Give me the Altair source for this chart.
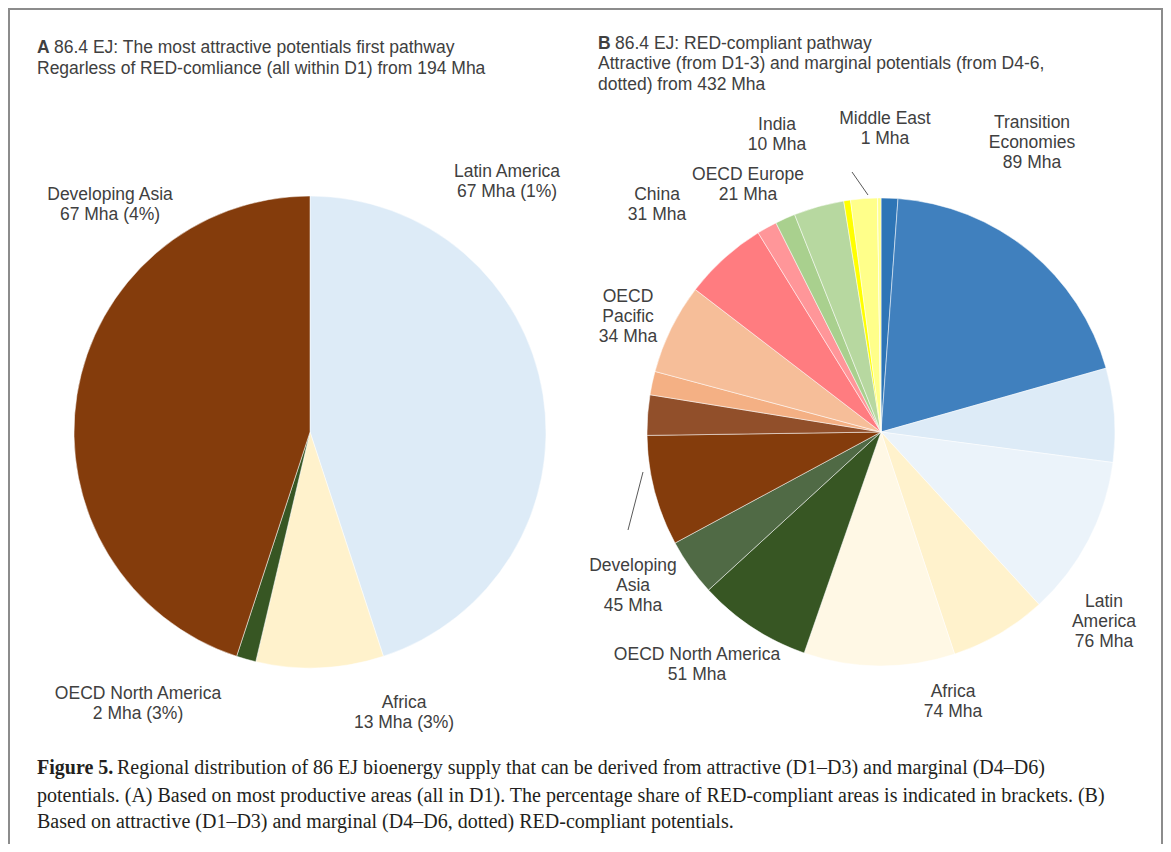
import altair as alt
import pandas as pd

# ---------------- data ----------------
# Panel A: most attractive potentials first (all within D1), Mha, clockwise from 12 o'clock
a_regions = ["Latin America", "Africa", "OECD North America", "Developing Asia"]
a_mha = [67, 13, 2, 67]
a_red_share = ["1%", "3%", "3%", "4%"]

# Panel B: RED-compliant pathway, Mha, clockwise from 12 o'clock
b_regions = ["Transition Economies", "Latin America", "Africa", "OECD North America",
             "Developing Asia", "OECD Pacific", "China", "OECD Europe", "India", "Middle East"]
b_attractive = [5, 28, 29, 34, 33, 7, 25, 6, 2, 0]      # D1-3 (solid)
b_marginal = [84, 48, 45, 17, 12, 27, 6, 15, 8, 1]      # D4-6 (dotted)
b_total = [89, 76, 74, 51, 45, 34, 31, 21, 10, 1]

# ---------------- styles ----------------
solid_col = {
    "Transition Economies": "#2E75B6", "Latin America": "#DDEBF7", "Africa": "#FFF2CC",
    "OECD North America": "#375623", "Developing Asia": "#843C0C", "OECD Pacific": "#F4B084",
    "China": "#FF7C80", "OECD Europe": "#A9D08E", "India": "#FFFF00", "Middle East": "#FFFF00",
}
dotted_col = {
    "Transition Economies": "#4080BE", "Latin America": "#EBF3FA", "Africa": "#FFF8E5",
    "OECD North America": "#506A45", "Developing Asia": "#914F2A", "OECD Pacific": "#F6BE99",
    "China": "#FF9699", "OECD Europe": "#B7D8A0", "India": "#FFFF8A", "Middle East": "#FFFF8A",
}
label_name = {
    "Transition Economies": "Transition\nEconomies", "Latin America": "Latin\nAmerica",
    "OECD Pacific": "OECD\nPacific", "Developing Asia": "Developing\nAsia",
}
# label anchor = centre of first text line (chart pixels)
a_label_pos = {"Latin America": (499, 164), "Africa": (396, 695),
               "OECD North America": (130, 686), "Developing Asia": (102, 187)}
b_label_pos = {"Transition Economies": (1024, 115), "Latin America": (1096, 594),
               "Africa": (945, 684), "OECD North America": (689, 647),
               "Developing Asia": (625, 558), "OECD Pacific": (620, 289),
               "China": (649, 187), "OECD Europe": (740, 167), "India": (769, 117),
               "Middle East": (877, 111)}

W, H = 1155, 836
CAX, CAY, RA = 302, 424, 236
CBX, CBY, RB = 873, 424, 234
TXT = "#404040"
SANS = "Liberation Sans"
SERIF = "Liberation Serif"
FS = 17.5

# ---------------- tables ----------------
df_a = pd.DataFrame({"region": a_regions, "mha": a_mha, "idx": range(len(a_regions))})
df_a["fill"] = df_a["region"].map(solid_col)

rows = []
k = 0
for r, s, m in zip(b_regions, b_attractive, b_marginal):
    rows.append({"region": r, "part": "attractive", "mha": s, "idx": k, "fill": solid_col[r]}); k += 1
    rows.append({"region": r, "part": "marginal", "mha": m, "idx": k, "fill": dotted_col[r]}); k += 1
df_b = pd.DataFrame(rows)

lab_a = pd.DataFrame({
    "text": [f"{r}\n{v} Mha ({p})" for r, v, p in zip(a_regions, a_mha, a_red_share)],
    "lx": [a_label_pos[r][0] for r in a_regions],
    "ly": [a_label_pos[r][1] for r in a_regions],
})
lab_b = pd.DataFrame({
    "text": [f"{label_name.get(r, r)}\n{v} Mha" for r, v in zip(b_regions, b_total)],
    "lx": [b_label_pos[r][0] for r in b_regions],
    "ly": [b_label_pos[r][1] for r in b_regions],
})

one = pd.DataFrame({"d": [0]})

# ---------------- marks ----------------
pie_a = alt.Chart(df_a).mark_arc(radius=RA, stroke="white", strokeWidth=0.5).encode(
    theta=alt.Theta("mha:Q", stack=True),
    order=alt.Order("idx:Q"),
    color=alt.Color("fill:N", scale=None),
    x=alt.value(CAX), y=alt.value(CAY),
)
pie_b = alt.Chart(df_b).mark_arc(radius=RB, stroke="white", strokeWidth=0.5).encode(
    theta=alt.Theta("mha:Q", stack=True),
    order=alt.Order("idx:Q"),
    color=alt.Color("fill:N", scale=None),
    x=alt.value(CBX), y=alt.value(CBY),
)

def labels(df):
    return alt.Chart(df).mark_text(
        font=SANS, fontSize=FS, color=TXT, lineBreak="\n", lineHeight=20,
        align="center", baseline="middle",
    ).encode(
        x=alt.X("lx:Q", scale=None, axis=None),
        y=alt.Y("ly:Q", scale=None, axis=None),
        text="text:N",
    )

def txt(s, x, y, font=SANS, size=FS, bold=False, color=TXT):
    return alt.Chart(pd.DataFrame({"t": [s]})).mark_text(
        font=font, fontSize=size, fontWeight="bold" if bold else "normal",
        color=color, align="left", baseline="middle",
    ).encode(text="t:N", x=alt.value(x), y=alt.value(y))

def rule(x, y, x2, y2, color="#8c8c8c", w=2):
    return alt.Chart(one).mark_rule(color=color, strokeWidth=w).encode(
        x=alt.value(x), y=alt.value(y), x2=alt.value(x2), y2=alt.value(y2))

frame = [rule(0, 1, W, 1), rule(1, 1, 1, H), rule(W - 1, 1, W - 1, H)]
leaders = [rule(844, 164, 860, 187, color="#595959", w=1),
           rule(635, 464, 620, 522, color="#595959", w=1)]

titles = [
    txt("A", 29, 40, bold=True),
    txt("86.4 EJ: The most attractive potentials first pathway", 46, 40),
    txt("Regarless of RED-comliance (all within D1) from 194 Mha", 29, 61),
    txt("B", 590, 36, bold=True),
    txt("86.4 EJ: RED-compliant pathway", 607, 36),
    txt("Attractive (from D1-3) and marginal potentials (from D4-6,", 590, 56),
    txt("dotted) from 432 Mha", 590, 77),
]
CAP = "#231F20"
CFS = 20
caption = [
    txt("Figure 5.", 29, 760, font=SERIF, size=CFS, bold=True, color=CAP),
    txt("Regional distribution of 86 EJ bioenergy supply that can be derived from attractive (D1\u2013D3) and marginal (D4\u2013D6)",
        109, 760, font=SERIF, size=CFS, color=CAP),
    txt("potentials. (A) Based on most productive areas (all in D1). The percentage share of RED-compliant areas is indicated in brackets. (B)",
        29, 788, font=SERIF, size=CFS, color=CAP),
    txt("Based on attractive (D1\u2013D3) and marginal (D4\u2013D6, dotted) RED-compliant potentials.",
        29, 814, font=SERIF, size=CFS, color=CAP),
]

chart = alt.layer(
    pie_a, pie_b, labels(lab_a), labels(lab_b), *leaders, *titles, *caption, *frame
).resolve_scale(theta="independent").properties(
    width=W, height=H, autosize=alt.AutoSizeParams(type="none"), padding=0,
).configure_view(stroke=None)

chart.save("out.html", embed_options={"renderer": "svg", "actions": False})
